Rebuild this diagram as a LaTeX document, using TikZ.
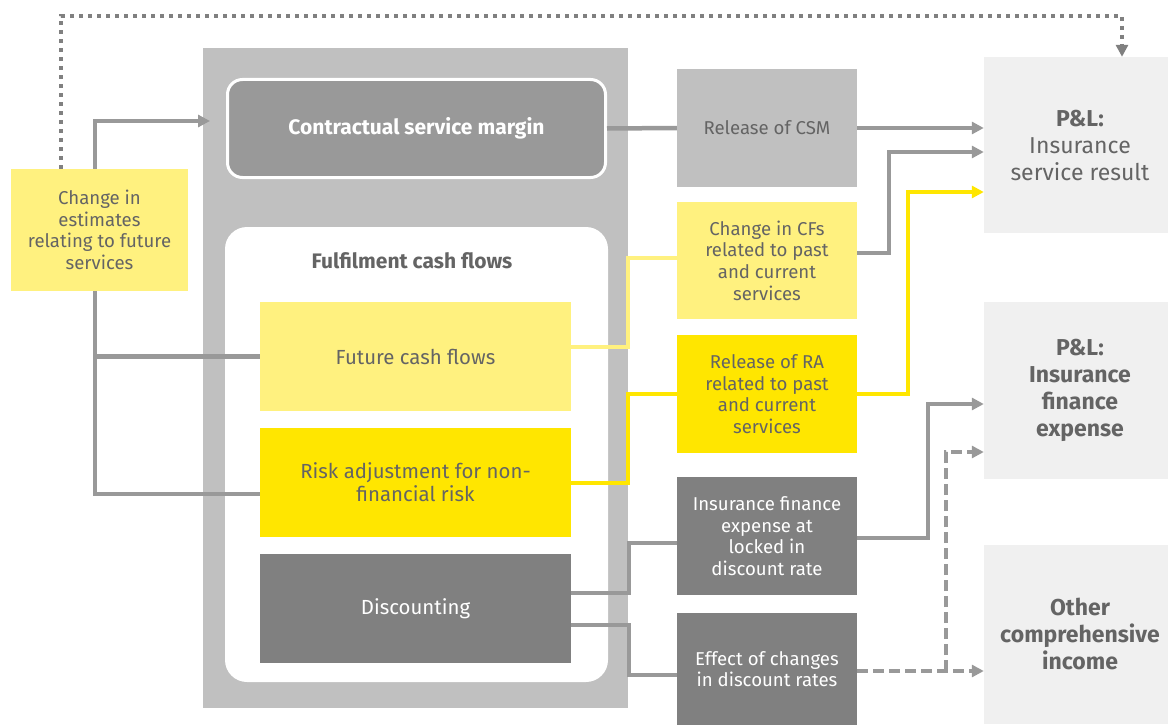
\documentclass[tikz,border=0pt]{standalone}
\usepackage{fontspec}
\setmainfont{Fira Sans}
\usetikzlibrary{arrows.meta,calc}
\definecolor{tgray}{HTML}{646464}
\definecolor{cgray}{HTML}{C0C0C0}
\definecolor{csmgray}{HTML}{999999}
\definecolor{dgray}{HTML}{808080}
\definecolor{lgray}{HTML}{999999}
\definecolor{plbg}{HTML}{F0F0F0}
\definecolor{ly}{HTML}{FFF17F}
\definecolor{yy}{HTML}{FFE600}
\begin{document}
\begin{tikzpicture}[x=1pt,y=-1pt,
  box/.style={rectangle, inner sep=0pt, align=center, text=tgray, font=\fontsize{18.6}{21.7}\selectfont},
  bigbox/.style={box, minimum width=311pt, minimum height=109pt, font=\fontsize{20.4}{23}\selectfont},
  midbox/.style={box, minimum width=180pt, minimum height=118pt},
  plbox/.style={box, fill=plbg, minimum width=192pt, font=\fontsize{23}{27}\selectfont},
  conn/.style={draw=lgray, line width=4.5pt},
  yconn/.style={draw=yy, line width=4pt},
  lyconn/.style={draw=ly, line width=4pt},
  arr/.style={-{Triangle[length=12pt,width=12pt]}},
  dotconn/.style={draw=dgray, line width=4pt, dash pattern=on 4pt off 5pt},
  dashconn/.style={draw=lgray, line width=4pt, dash pattern=on 11pt off 5pt}
]
\useasboundingbox (0,0) rectangle (1168,725);

% containers
\node[fill=cgray, minimum width=425pt, minimum height=660pt, inner sep=0pt] (outer) at (415.5,378) {};
\node[fill=csmgray, draw=white, line width=3pt, rounded corners=15pt, minimum width=378pt, minimum height=98pt, inner sep=0pt, text=white, font=\bfseries\fontsize{21}{24}\selectfont] (csm) at (416.5,128.5) {Contractual service margin};
\node[fill=white, rounded corners=22pt, minimum width=383pt, minimum height=455pt, inner sep=0pt] (fcf) at (416.5,454.5) {};
\node[text=tgray, font=\bfseries\fontsize{21}{24}\selectfont] (fcft) at (412,261) {Fulfilment cash flows};

% inner boxes
\node[bigbox, fill=ly] (fut) at (415.5,356.5) {Future cash flows};
\node[bigbox, fill=yy] (risk) at (415.5,482.5) {Risk adjustment for non-\\financial risk};
\node[bigbox, fill=dgray, text=white] (disc) at (415.5,608.5) {Discounting};

% left box
\node[box, fill=ly, minimum width=177pt, minimum height=122pt] (chg) at (99.5,230) {Change in\\estimates\\relating to future\\services};

% middle boxes
\node[midbox, fill=cgray] (rcsm) at (767,128) {Release of CSM};
\node[midbox, fill=ly, minimum height=117pt] (cfs) at (767,260.5) {Change in CFs\\related to past\\and current\\services};
\node[midbox, fill=yy] (ra) at (767,394) {Release of RA\\related to past\\and current\\services};
\node[midbox, fill=dgray, text=white] (ife) at (767,536) {Insurance finance\\expense at\\locked in\\discount rate};
\node[midbox, fill=dgray, text=white, minimum height=112pt] (eff) at (767,669) {\raisebox{-3pt}{\parbox{178pt}{\centering Effect of changes\\in discount rates}}};

% P&L boxes
\node[plbox, minimum height=176pt] (pl1) at (1080,145) {\textbf{P\&L:}\\Insurance\\service result};
\node[plbox, minimum height=177pt, font=\bfseries\fontsize{23}{27}\selectfont] (pl2) at (1080,390.5) {P\&L:\\Insurance\\finance\\expense};
\node[plbox, minimum height=179pt, font=\bfseries\fontsize{23}{27}\selectfont] (pl3) at (1080,634) {Other\\comprehensive\\income};

% connectors
\draw[dotconn, arr] ($(chg.north)+(-38.5,0)$) -- ++(0,-153) -| ($(pl1.north)+(42,0)$);
\draw[conn, arr] ($(chg.north)+(-4.5,0)$) |- ($(csm.west)+(-16,-7.5)$);
\draw[conn] ($(chg.south)+(-4.5,0)$) |- ($(risk.west)+(0,11.5)$);
\draw[conn] ($(chg.south)+(-4.5,0)$) |- (fut.west);

\draw[conn] (csm.east) -- (rcsm.west);
\draw[conn, arr] (rcsm.east) -- (rcsm.east -| pl1.west);
\draw[conn, arr] ($(cfs.east)+(0,-7.5)$) -- ++(32,0) |- ($(pl1.west)+(0,7)$);
\draw[yconn, arr] (ra.east) -- ++(51,0) |- ($(pl1.west)+(0,47)$);

\draw[lyconn] ($(fut.east)+(0,-9.5)$) -- ++(57,0) |- ($(cfs.west)+(0,-2.5)$);
\draw[yconn] (risk.east) -- ++(57,0) |- (ra.west);
\draw[conn] ($(disc.east)+(0,-15.5)$) -- ++(58,0) |- ($(ife.west)+(0,7)$);
\draw[conn] ($(disc.east)+(0,16.5)$) -- ++(58,0) |- ($(eff.west)+(0,6)$);

\draw[conn, arr] ($(ife.east)+(0,2)$) -- ++(71,0) |- ($(pl2.west)+(0,13.5)$);
\coordinate (effout) at ($(eff.east)+(0,2)$);
\draw[dashconn, arr] (effout) -- (effout -| pl3.west);
\draw[dashconn, arr] ($(effout)+(89,0)$) |- ($(pl2.west)+(0,61.5)$);
\end{tikzpicture}
\end{document}
